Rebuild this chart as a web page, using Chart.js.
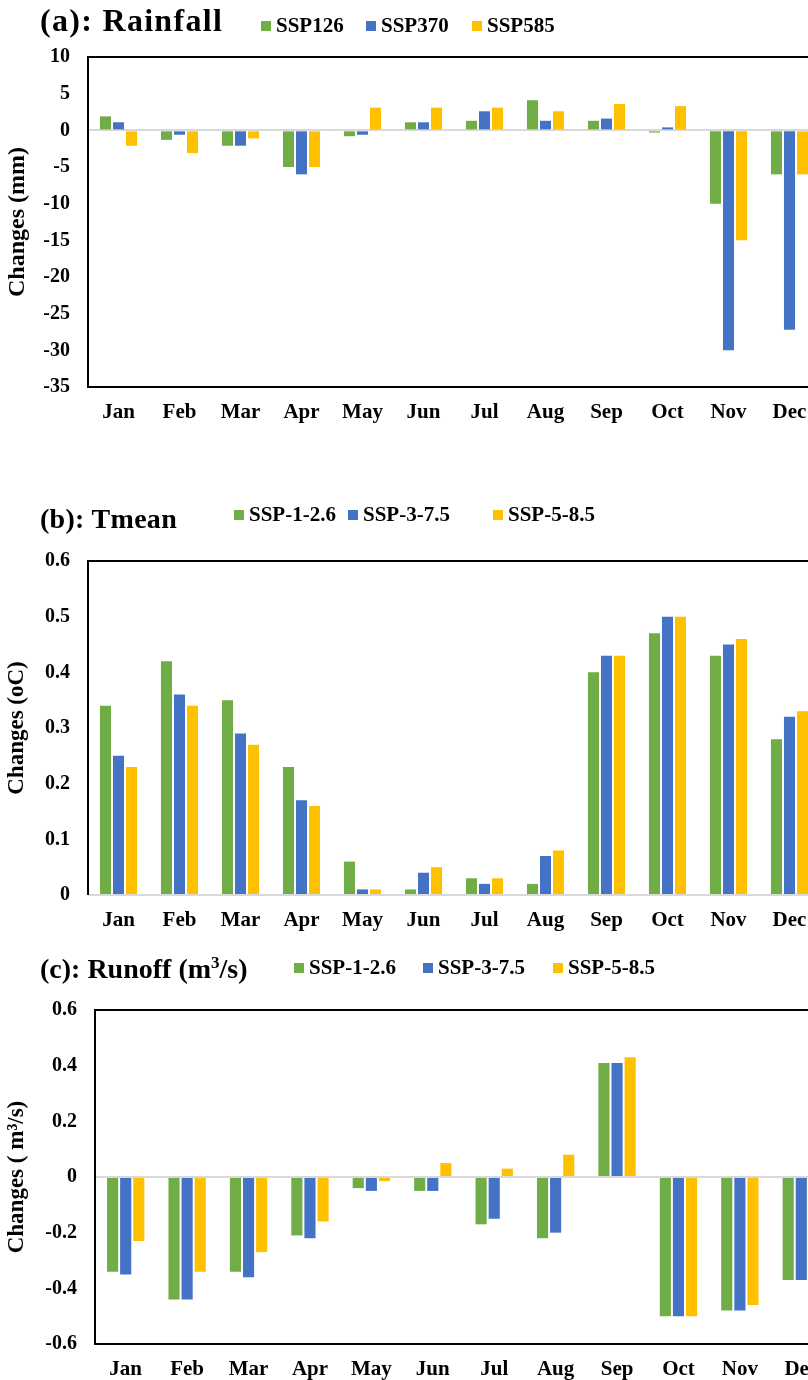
<!DOCTYPE html>
<html>
<head>
<meta charset="utf-8">
<title>Monthly changes: rainfall, Tmean, runoff</title>
<script src="https://cdn.jsdelivr.net/npm/chart.js@4.4.1/dist/chart.umd.min.js"></script>
<style>
  html, body { margin: 0; padding: 0; background: #fff; }
  body { width: 808px; height: 1380px; overflow: hidden; position: relative;
         font-family: 'Liberation Serif', 'Times New Roman', serif; font-weight: bold; color: #000; }
  .panel-title { position: absolute; left: 40px; white-space: nowrap; }
  .leg { position: absolute; white-space: nowrap; }
  .leg i { display: inline-block; width: 10px; height: 10px; margin-right: 5px; vertical-align: 1px; }
  canvas { position: absolute; left: 0; }
</style>
</head>
<body>

<canvas id="rainChart" width="830" height="403" style="top:27px"></canvas>
<canvas id="tmeanChart" width="830" height="409" style="top:531px"></canvas>
<canvas id="runoffChart" width="845" height="400" style="top:980px"></canvas>

<div class="panel-title" style="top:2px;font-size:32px;letter-spacing:1.3px">(a): Rainfall</div>
<div class="leg" style="top:13px;left:261px;font-size:21px"><i style="background:#70AD47"></i>SSP126</div>
<div class="leg" style="top:13px;left:366px;font-size:21px"><i style="background:#4472C4"></i>SSP370</div>
<div class="leg" style="top:13px;left:472px;font-size:21px"><i style="background:#FFC000"></i>SSP585</div>

<div class="panel-title" style="top:503px;font-size:28px;letter-spacing:0.3px">(b): Tmean</div>
<div class="leg" style="top:502px;left:234px;font-size:21px"><i style="background:#70AD47"></i>SSP-1-2.6</div>
<div class="leg" style="top:502px;left:348px;font-size:21px"><i style="background:#4472C4"></i>SSP-3-7.5</div>
<div class="leg" style="top:502px;left:493px;font-size:21px"><i style="background:#FFC000"></i>SSP-5-8.5</div>

<div class="panel-title" style="top:953px;font-size:28px;letter-spacing:0px">(c): Runoff (m<sup style="font-size:17px">3</sup>/s)</div>
<div class="leg" style="top:955px;left:294px;font-size:21px"><i style="background:#70AD47"></i>SSP-1-2.6</div>
<div class="leg" style="top:955px;left:423px;font-size:21px"><i style="background:#4472C4"></i>SSP-3-7.5</div>
<div class="leg" style="top:955px;left:553px;font-size:21px"><i style="background:#FFC000"></i>SSP-5-8.5</div>

<script>
const months = ['Jan', 'Feb', 'Mar', 'Apr', 'May', 'Jun', 'Jul', 'Aug', 'Sep', 'Oct', 'Nov', 'Dec'];

// (a) rainfall change, mm
const rainLabels = ['SSP126', 'SSP370', 'SSP585'];
const rainSsp126 = [1.9, -1.3, -2.1, -5.0, -0.8, 1.1, 1.3, 4.1, 1.3, -0.3, -10.0, -6.0];
const rainSsp370 = [1.1, -0.6, -2.1, -6.0, -0.6, 1.1, 2.6, 1.3, 1.6, 0.4, -30.0, -27.2];
const rainSsp585 = [-2.1, -3.1, -1.1, -5.0, 3.1, 3.1, 3.1, 2.6, 3.6, 3.3, -15.0, -6.0];
const rainTicks = [-35, 10, 5];   // min, max, step

// (b) mean temperature change, oC
const sspLabels = ['SSP-1-2.6', 'SSP-3-7.5', 'SSP-5-8.5'];
const tmeanSsp126 = [0.34, 0.42, 0.35, 0.23, 0.06, 0.01, 0.03, 0.02, 0.40, 0.47, 0.43, 0.28];
const tmeanSsp375 = [0.25, 0.36, 0.29, 0.17, 0.01, 0.04, 0.02, 0.07, 0.43, 0.50, 0.45, 0.32];
const tmeanSsp585 = [0.23, 0.34, 0.27, 0.16, 0.01, 0.05, 0.03, 0.08, 0.43, 0.50, 0.46, 0.33];
const tmeanTicks = [0, 0.6, 0.1];

// (c) runoff change, m3/s
const runoffSsp126 = [-0.34, -0.44, -0.34, -0.21, -0.04, -0.05, -0.17, -0.22, 0.41, -0.50, -0.48, -0.37];
const runoffSsp375 = [-0.35, -0.44, -0.36, -0.22, -0.05, -0.05, -0.15, -0.20, 0.41, -0.50, -0.48, -0.37];
const runoffSsp585 = [-0.23, -0.34, -0.27, -0.16, -0.015, 0.05, 0.03, 0.08, 0.43, -0.50, -0.46, -0.33];
const runoffTicks = [-0.6, 0.6, 0.2];

const COLORS = ['#70AD47', '#4472C4', '#FFC000'];
const FONT = "'Liberation Serif', 'Times New Roman', serif";

// black frame round the plot area (top, left, optional bottom)
const framePlugin = {
  id: 'frame',
  beforeDatasetsDraw(chart, args, opts) {
    const { ctx, chartArea: a } = chart;
    ctx.save();
    ctx.strokeStyle = '#000';
    ctx.lineWidth = 2;
    ctx.beginPath();
    ctx.moveTo(a.right + 20, a.top);
    ctx.lineTo(a.left, a.top);
    ctx.lineTo(a.left, a.bottom);
    if (opts.bottom) ctx.lineTo(a.right + 20, a.bottom);
    ctx.stroke();
    ctx.restore();
  },
};

// note: the y scale reserves half a label + tick padding (~30px) above the plot,
// so canvases are placed 30px above the plot top
function makeChart(id, labels, series, ticks, yTitle, cfg) {
  const [min, max, step] = ticks;
  const isZero = v => Math.abs(v) < 1e-9;
  return new Chart(document.getElementById(id), {
    type: 'bar',
    data: {
      labels: months,
      datasets: series.map((data, i) => ({
        label: labels[i],
        data,
        backgroundColor: COLORS[i],
        borderWidth: 0,
        categoryPercentage: 0.64,
        barPercentage: 0.85,
      })),
    },
    options: {
      responsive: false,
      animation: false,
      layout: { padding: { top: 0, right: cfg.right, left: 0, bottom: 0 } },
      plugins: {
        legend: { display: false },
        tooltip: { enabled: false },
        frame: { bottom: cfg.frameBottom },
      },
      scales: {
        x: {
          afterFit: s => { s.height = cfg.xHeight; },
          grid: { display: false, drawTicks: false },
          border: { display: false },
          ticks: { color: '#000', padding: 13, maxRotation: 0, font: { family: FONT, size: 21, weight: 'bold' } },
        },
        y: {
          min, max,
          afterFit: s => { s.width = cfg.yWidth; },
          grid: {
            drawTicks: false,
            color: c => (isZero(c.tick.value) ? '#D9D9D9' : 'rgba(0,0,0,0)'),
            lineWidth: 2,
          },
          border: { display: false },
          ticks: {
            stepSize: step,
            color: '#000',
            padding: 18,
            font: { family: FONT, size: 20, weight: 'bold' },
            callback: v => (isZero(v) ? '0' : (step < 1 ? v.toFixed(1) : String(v))),
          },
          title: {
            display: true,
            text: yTitle,
            color: '#000',
            padding: { top: 3, bottom: 0 },
            font: { family: FONT, size: cfg.titleSize, weight: 'bold' },
          },
        },
      },
    },
    plugins: [framePlugin],
  });
}

makeChart('rainChart', rainLabels, [rainSsp126, rainSsp370, rainSsp585], rainTicks, 'Changes (mm)',
  { right: 10, xHeight: 43, yWidth: 88, frameBottom: true, titleSize: 24 });

makeChart('tmeanChart', sspLabels, [tmeanSsp126, tmeanSsp375, tmeanSsp585], tmeanTicks, 'Changes (oC)',
  { right: 10, xHeight: 45, yWidth: 88, frameBottom: false, titleSize: 23 });

makeChart('runoffChart', sspLabels, [runoffSsp126, runoffSsp375, runoffSsp585], runoffTicks, 'Changes ( m³/s)',
  { right: 13, xHeight: 36, yWidth: 95, frameBottom: true, titleSize: 23 });
</script>
</body>
</html>
